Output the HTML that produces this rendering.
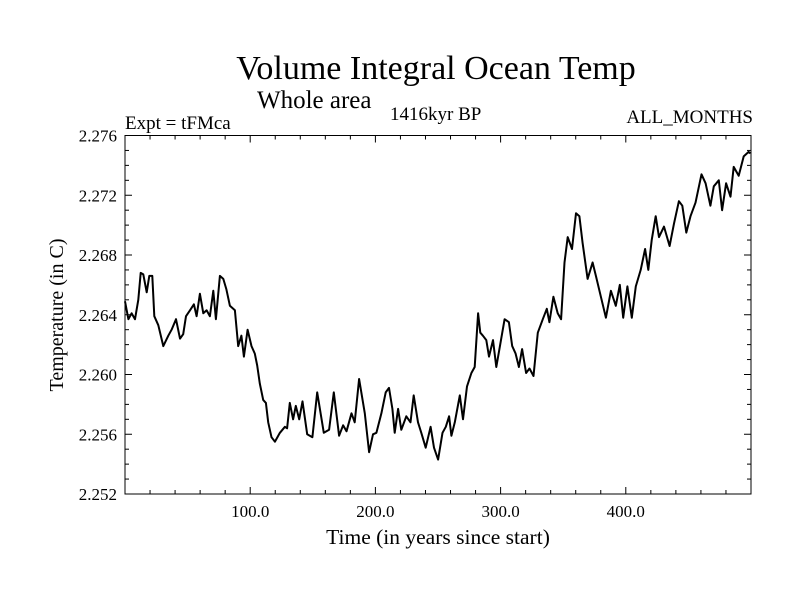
<!DOCTYPE html>
<html><head><meta charset="utf-8"><style>
body{margin:0;background:#fff;}
svg{display:block;font-family:"Liberation Serif",serif;}
</style></head><body>
<svg id="chart" width="800" height="600" xmlns="http://www.w3.org/2000/svg">
<text x="436" y="79" font-size="34" text-anchor="middle">Volume Integral Ocean Temp</text>
<text x="257" y="108" font-size="25">Whole area</text>
<text x="390" y="120" font-size="19">1416kyr BP</text>
<text x="125" y="129" font-size="19">Expt = tFMca</text>
<text x="753" y="123" font-size="19" text-anchor="end">ALL_MONTHS</text>
<text x="438" y="544" font-size="21.5" text-anchor="middle">Time (in years since start)</text>
<text x="0" y="0" font-size="20" text-anchor="middle" transform="translate(63,315) rotate(-90)">Temperature (in C)</text>
<g id="axes"></g>
<path id="series" fill="none" stroke="#000" stroke-width="2" stroke-linejoin="round"/>
<rect x="125" y="135.5" width="626" height="358.5" fill="none" stroke="#000" stroke-width="1"/>
</svg>
<script>
const years=[0,2.7,5.3,8,10.6,12.5,14.6,17.3,19.4,21.8,23.4,26.6,30.6,34.6,37.2,40.7,43.9,46.5,48.7,51.9,55,57.2,59.8,62.5,65.2,67.8,70.5,72.6,75.8,78.5,81,83.8,87.8,90.4,93,95,97.9,101,103.7,105.6,107.7,110.4,112.5,114.4,117,119.7,123.7,127.7,129.5,131.6,134.3,136.4,139.1,141.8,145.5,149.7,153.5,158.8,163,166.8,171,174.2,176.9,180.9,183.5,187,191.5,195,198.1,200.8,204.8,208.2,210.9,213.6,215.4,218.1,220.7,224.7,228,230.6,234,236.7,240.2,244.1,246.8,250.1,253.6,256.2,258.9,260.7,263.4,267.4,270,273.2,276.7,279.3,282,283.8,285.9,288.6,290.7,293.9,296.6,299.7,303.2,306.6,309.3,312,314.6,317.2,320.4,323.1,326.3,329.7,333.7,336.9,339,342.2,345.6,348.3,351,353.6,357,360.2,362.9,365.5,369.5,373.5,376.1,380.1,384.1,388.1,392,395.2,397.9,401.3,404.8,408,411.9,415.4,418,420.7,423.9,426.5,430.5,435,438.5,442.4,445.1,448.3,451.7,455.7,460.5,463.7,467.6,470.3,474.3,476.9,480.1,483.6,486.2,490.2,494.2,498.1,499.5];
const temps=[2.2649,2.2637,2.2641,2.2637,2.2650,2.2668,2.2667,2.2655,2.2666,2.2666,2.2639,2.2633,2.2619,2.2626,2.2630,2.2637,2.2624,2.2627,2.2639,2.2643,2.2647,2.2639,2.2654,2.2641,2.2643,2.2639,2.2656,2.2637,2.2666,2.2664,2.2657,2.2646,2.2643,2.2619,2.2626,2.2612,2.2630,2.2619,2.2614,2.2606,2.2594,2.2583,2.2581,2.2568,2.2558,2.2555,2.2561,2.2565,2.2564,2.2581,2.2570,2.2579,2.2570,2.2582,2.2560,2.2558,2.2588,2.2561,2.2563,2.2588,2.2559,2.2566,2.2562,2.2574,2.2568,2.2597,2.2574,2.2548,2.2560,2.2561,2.2574,2.2588,2.2591,2.2577,2.2561,2.2577,2.2563,2.2572,2.2568,2.2586,2.2568,2.2561,2.2551,2.2565,2.2551,2.2543,2.2561,2.2565,2.2572,2.2559,2.2568,2.2586,2.2570,2.2592,2.2601,2.2605,2.2641,2.2628,2.2626,2.2623,2.2612,2.2623,2.2605,2.2620,2.2637,2.2635,2.2619,2.2614,2.2605,2.2617,2.2601,2.2604,2.2599,2.2628,2.2637,2.2644,2.2635,2.2652,2.2641,2.2637,2.2675,2.2692,2.2684,2.2708,2.2706,2.2688,2.2664,2.2675,2.2666,2.2652,2.2638,2.2656,2.2646,2.2660,2.2638,2.2659,2.2638,2.2659,2.2670,2.2684,2.2670,2.2690,2.2706,2.2692,2.2699,2.2686,2.2701,2.2716,2.2713,2.2695,2.2706,2.2715,2.2734,2.2728,2.2713,2.2726,2.2730,2.2710,2.2728,2.2719,2.2739,2.2733,2.2746,2.2749,2.2748];
const xTicks=[100,200,300,400];
const xTickLabels=["100.0","200.0","300.0","400.0"];
const yTicks=[2.252,2.256,2.260,2.264,2.268,2.272,2.276];
const yTickLabels=["2.252","2.256","2.260","2.264","2.268","2.272","2.276"];
const L=125,R=751,T=135.5,B=494,X0=0,X1=500,Y0=2.252,Y1=2.276;
const sx=v=>L+(v-X0)/(X1-X0)*(R-L);
const sy=v=>B-(v-Y0)/(Y1-Y0)*(B-T);
const NS="http://www.w3.org/2000/svg";
const axes=document.getElementById('axes');
function line(x1,y1,x2,y2,name){const l=document.createElementNS(NS,'line');
l.setAttribute('x1',x1);l.setAttribute('y1',y1);l.setAttribute('x2',x2);l.setAttribute('y2',y2);
l.setAttribute('stroke','#000');l.setAttribute('stroke-width','1');


axes.appendChild(l);}
function text(x,y,s,anchor,name){const t=document.createElementNS(NS,'text');
t.setAttribute('x',x);t.setAttribute('y',y);t.setAttribute('font-size','17');t.setAttribute('text-anchor',anchor);t.textContent=s;


axes.appendChild(t);}
for(let v=20;v<X1;v+=20){const x=sx(v);const major=v%100===0;const len=major?7:4;
line(x,B,x,B-len,'x-tick');line(x,T,x,T+len,'x-tick-top');}
xTicks.forEach((v,i)=>text(sx(v),517,xTickLabels[i],'middle','x-tick-label'));
for(let k=0;k<=24;k++){const v=Y0+k*0.001;const y=sy(v);const major=k%4===0;const len=major?7:4;
line(L,y,L+len,y,'y-tick');line(R,y,R-len,y,'y-tick-right');}
yTicks.forEach((v,i)=>text(117,sy(v)+6,yTickLabels[i],'end','y-tick-label'));
let d='';years.forEach((y,i)=>{d+=(i?'L':'M')+sx(y).toFixed(1)+' '+sy(temps[i]).toFixed(1);});
document.getElementById('series').setAttribute('d',d);
</script>
</body></html>
